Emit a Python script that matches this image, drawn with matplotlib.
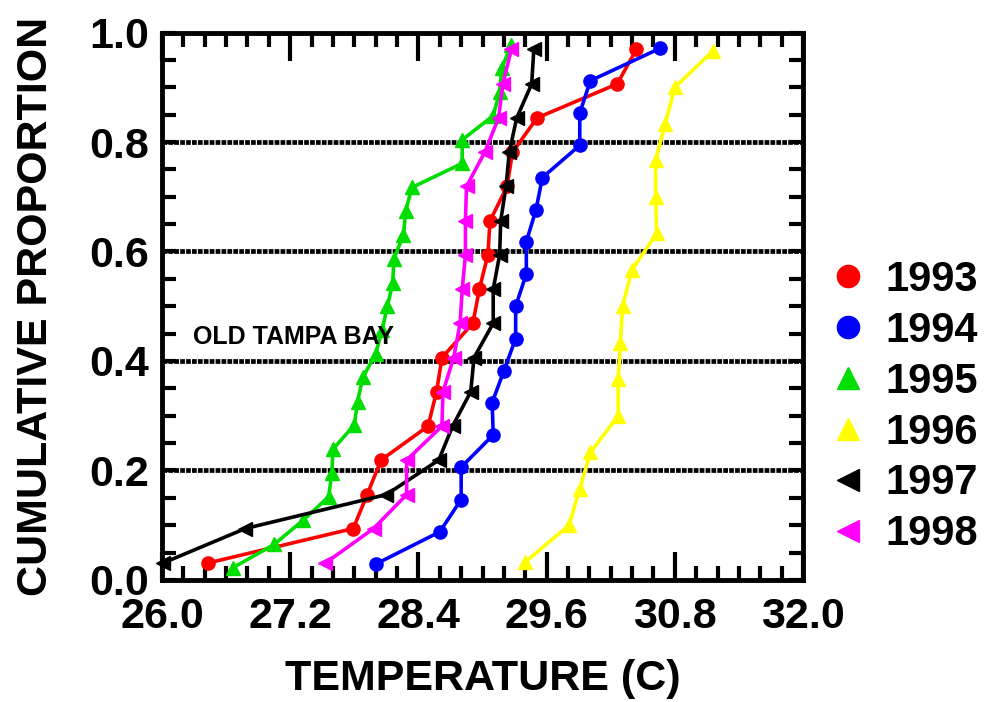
# coding:utf8
"""
Cumulative proportion of temperature, Old Tampa Bay, 1993-1998
"""

import matplotlib
matplotlib.use("Agg")
import matplotlib.pyplot as plt
from matplotlib import rcParams
from matplotlib.lines import Line2D
from matplotlib.ticker import MultipleLocator

rcParams['font.family'] = ['Liberation Sans', 'DejaVu Sans']
rcParams['font.weight'] = 'bold'

# data
years = ["1993", "1994", "1995", "1996", "1997", "1998"]
colors = ["#ff0000", "#0000ff", "#00dd00", "#ffff00", "#000000", "#ff00ff"]
markers = ["o", "o", "^", "^", "<", "<"]
xticks = [26.0, 27.2, 28.4, 29.6, 30.8, 32.0]
yticks = [0.0, 0.2, 0.4, 0.6, 0.8, 1.0]
hlines = [0.2, 0.4, 0.6, 0.8]

t1993 = [26.43, 27.79, 27.92, 28.05, 28.49, 28.57, 28.62, 28.91, 28.97, 29.05,
         29.07, 29.23, 29.28, 29.51, 30.26, 30.44]
p1993 = [0.031, 0.094, 0.156, 0.219, 0.281, 0.344, 0.406, 0.469, 0.531, 0.594,
         0.656, 0.719, 0.781, 0.844, 0.906, 0.969]

t1994 = [28.00, 28.60, 28.80, 28.80, 29.10, 29.09, 29.20, 29.31, 29.31, 29.41,
         29.41, 29.50, 29.56, 29.91, 29.91, 30.01, 30.66]
p1994 = [0.029, 0.088, 0.147, 0.206, 0.265, 0.324, 0.382, 0.441, 0.500, 0.559,
         0.618, 0.676, 0.735, 0.794, 0.853, 0.912, 0.971]

t1995 = [26.66, 27.05, 27.32, 27.56, 27.59, 27.60, 27.80, 27.83, 27.88, 28.00,
         28.06, 28.11, 28.16, 28.17, 28.26, 28.28, 28.34, 28.81, 28.81, 29.10,
         29.16, 29.18, 29.27]
p1995 = [0.022, 0.065, 0.109, 0.152, 0.196, 0.239, 0.283, 0.326, 0.370, 0.413,
         0.457, 0.500, 0.543, 0.587, 0.630, 0.674, 0.717, 0.761, 0.804, 0.848,
         0.891, 0.935, 0.978]

t1996 = [29.40, 29.81, 29.91, 30.01, 30.27, 30.27, 30.29, 30.31, 30.40, 30.63,
         30.62, 30.62, 30.71, 30.80, 31.16]
p1996 = [0.033, 0.100, 0.167, 0.233, 0.300, 0.367, 0.433, 0.500, 0.567, 0.633,
         0.700, 0.767, 0.833, 0.900, 0.967]

t1997 = [26.01, 26.78, 28.10, 28.59, 28.72, 28.89, 28.92, 29.10, 29.10, 29.16,
         29.17, 29.22, 29.25, 29.32, 29.46, 29.48]
p1997 = p1993

t1998 = [27.53, 27.98, 28.29, 28.29, 28.62, 28.63, 28.73, 28.79, 28.81, 28.84,
         28.84, 28.85, 29.02, 29.15, 29.19, 29.27]
p1998 = p1993

temps = [t1993, t1994, t1995, t1996, t1997, t1998]
props = [p1993, p1994, p1995, p1996, p1997, p1998]

fig = plt.figure(figsize=(9.89, 7.02), dpi=100)
ax = fig.add_axes([0.1638, 0.1738, 0.6482, 0.7799])

# horizontal reference lines
for yv in hlines:
    ax.axhline(yv, color="k", lw=3.4, ls=(0, (1.0, 0.25)), zorder=1)

for t, p, c, m in zip(temps, props, colors, markers):
    ms = 9.5 if m == "o" else 10.5
    ax.plot(t, p, color=c, lw=2.6, marker=m, ms=ms, mec=c, mfc=c, zorder=3,
            clip_on=False)

ax.text(26.29, 0.443, "OLD TAMPA BAY", fontsize=18, fontweight='bold',
        va='center', ha='left')

ax.set_xlim(26.0, 32.0)
ax.set_ylim(0.0, 1.0)
ax.set_xticks(xticks)
ax.set_yticks(yticks)
ax.xaxis.set_minor_locator(MultipleLocator(0.2))
ax.yaxis.set_minor_locator(MultipleLocator(0.05))
ax.xaxis.set_major_formatter(plt.FormatStrFormatter("%.1f"))
ax.yaxis.set_major_formatter(plt.FormatStrFormatter("%.1f"))

ax.tick_params(axis='x', which='both', direction='in', top=True, bottom=True,
               width=3, labelsize=31, pad=12)
ax.tick_params(axis='x', which='major', length=20)
ax.tick_params(axis='x', which='minor', length=10)
ax.tick_params(axis='y', which='both', direction='in', left=True, right=True,
               width=3, length=10, labelsize=31, pad=9)
for s in ax.spines.values():
    s.set_linewidth(3.5)

ax.set_xlabel("TEMPERATURE (C)", fontsize=31, fontweight='bold', labelpad=16)
ax.set_ylabel("CUMULATIVE PROPORTION", fontsize=31, fontweight='bold',
              labelpad=24)

handles = [Line2D([], [], ls='none', marker=m, color=c, ms=16)
           for c, m in zip(colors, markers)]
fig.legend(handles, years, loc='center left', bbox_to_anchor=(0.811, 0.42),
           frameon=False, fontsize=30, handletextpad=0.3, labelspacing=0.26,
           borderpad=0, handlelength=1.2)

plt.savefig("out.png", dpi=100)
